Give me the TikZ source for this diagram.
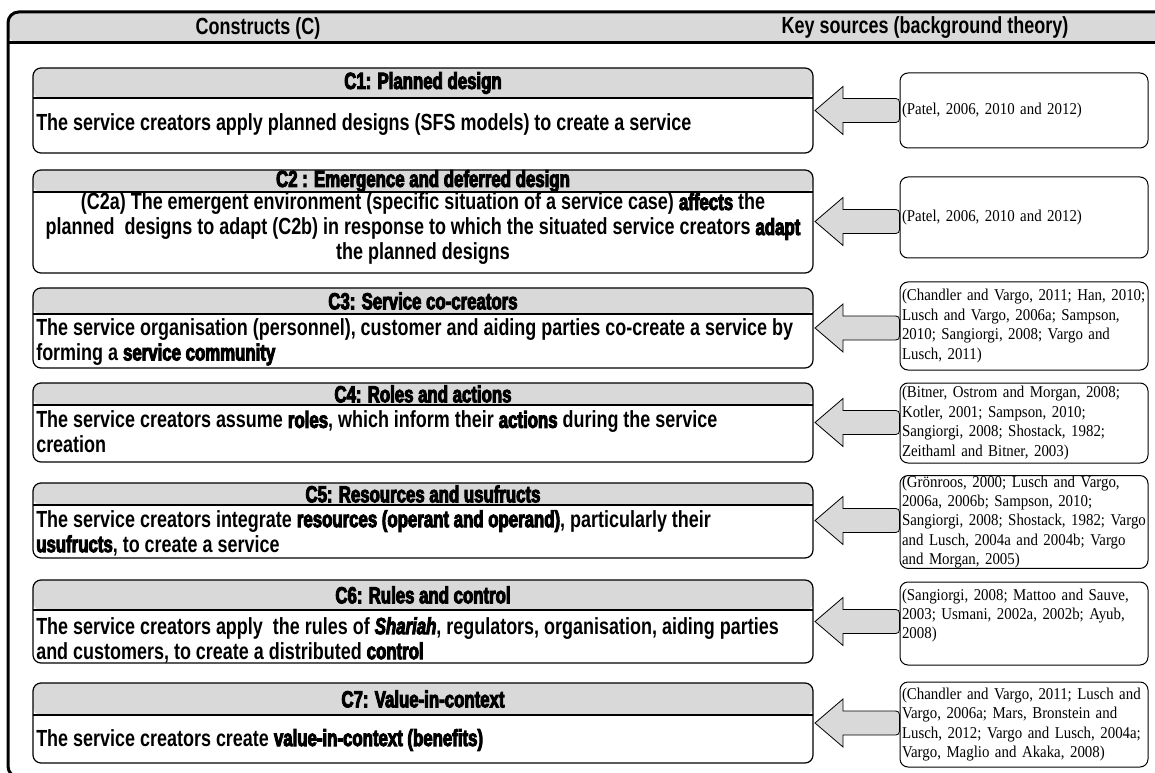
\documentclass[tikz,border=0pt]{standalone}
\usepackage{fontspec}
\setmainfont{Liberation Serif}[FakeStretch=0.9]
\newfontfamily\narrowfont{Liberation Sans}[FakeStretch=0.77]
\newfontfamily\heavyfont{Liberation Sans}[FakeStretch=0.72,BoldFeatures={FakeBold=4},BoldItalicFeatures={FakeBold=4}]
\usetikzlibrary{calc}
\definecolor{hdrgray}{RGB}{217,217,217}
\newcommand\hv[1]{{\heavyfont\bfseries #1}}

\tikzset{
  panel/.style={draw=black, line width=0.9pt, rounded corners=6pt, fill=white,
    inner sep=0pt, outer sep=0pt},
  band/.style={path picture={
      \fill[hdrgray] (path picture bounding box.north west) rectangle
        ($(path picture bounding box.north east)+(0,#1)$);
      \draw[line width=0.9pt] ($(path picture bounding box.north west)+(0,#1)$) --
        ($(path picture bounding box.north east)+(0,#1)$);}},
  outerframe/.style={draw=black, line width=2.25pt, rounded corners=8pt, fill=white,
    inner sep=0pt, outer sep=0pt, path picture={
      \fill[hdrgray] (path picture bounding box.north west) rectangle
        ($(path picture bounding box.north east)+(0,31)$);
      \draw[line width=2.25pt] ($(path picture bounding box.north west)+(0,31)$) --
        ($(path picture bounding box.north east)+(0,31)$);}},
  colhead/.style={font={\narrowfont\bfseries\fontsize{17.5pt}{19pt}\selectfont}, inner sep=0pt},
  title/.style={font={\heavyfont\bfseries\fontsize{17.5pt}{19pt}\selectfont}, inner sep=0pt},
  body/.style={font={\narrowfont\bfseries\fontsize{17.5pt}{18.75pt}\selectfont}, inner sep=0pt, align=left},
  src/.style={draw=black, line width=0.75pt, rounded corners=6pt, fill=white,
    text width=183pt, inner xsep=1.5pt, inner ysep=0pt, align=left,
    font=\fontsize{12.4pt}{14.6pt}\selectfont},
  feeder/.style={draw=black, line width=0.6pt, fill=hdrgray, line join=miter},
}

% construct panel: name, top, bottom, band height, title
\newcommand\construct[5]{%
  \node[panel, band=#4, minimum width=585pt, minimum height={(#3-#2)*0.75pt}]
    (#1) at (423,{(#2+#3)/2}) {};
  \node[title] (#1-title) at (423,{#2+#4/2}) {#5};}

% source panel: name, top, bottom, references
\newcommand\source[4]{%
  \node[src, minimum height={(#3-#2)*0.75pt}] (#1) at (1024,{(#2+#3)/2}) {#4};}

% block arrow from a source panel into a construct panel
\newcommand\feed[2]{%
  \coordinate (tip) at ($(#2.east)+(2,0)$);
  \coordinate (shaftend) at (#1.west |- tip);
  \draw[feeder] (tip) -- ++(28,-24) -- ++(0,12) -- ($(shaftend)+(-8,-12)$)
    .. controls ($(shaftend)+(0,-12)$) .. ($(shaftend)+(0,-4)$) -- ($(shaftend)+(0,4)$)
    .. controls ($(shaftend)+(0,12)$) .. ($(shaftend)+(-8,12)$)
    -- ($(tip)+(28,12)$) -- ++(0,12) -- cycle;}

\begin{document}
\begin{tikzpicture}[x=0.75pt,y=-0.75pt]
\useasboundingbox (0,0) rectangle (1155,773);
\clip (0,0) rectangle (1155,773);
\fill[white] (0,0) rectangle (1155,773);

% outer table with its heading row
\node[outerframe, minimum width=879pt, minimum height=573.75pt] (frame) at (594,394.5) {};
\node[colhead] (headC) at (258,28) {Constructs (C)};
\node[colhead] (headK) at (925,28) {Key sources (background theory)};

% constructs
\construct{c1}{68}{153}{30}{C1: Planned design}
\construct{c2}{170}{273}{22}{C2 : Emergence and deferred design}
\construct{c3}{288}{368}{26}{C3: Service co-creators}
\construct{c4}{383}{462}{22}{C4: Roles and actions}
\construct{c5}{483}{558}{22}{C5: Resources and usufructs}
\construct{c6}{580}{663}{30}{C6: Rules and control}
\construct{c7}{683}{763}{32}{C7: Value-in-context}

\node[body, anchor=west] (c1-body) at (36,125)
  {The service creators apply planned designs (SFS models) to create a service};
\node[body, align=center] (c2-body) at (423,229)
  {(C2a) The emergent environment (specific situation of a service case) \hv{affects} the\\
   planned\ \ designs to adapt (C2b) in response to which the situated service creators \hv{adapt}\\
   the planned designs};
\node[body, anchor=west] (c3-body) at (36,342)
  {The service organisation (personnel), customer and aiding parties co-create a service by\\
   forming a \hv{service community}};
\node[body, anchor=west] (c4-body) at (36,432)
  {The service creators assume \hv{roles}, which inform their \hv{actions} during the service\\
   creation};
\node[body, anchor=west] (c5-body) at (36,533)
  {The service creators integrate \hv{resources (operant and operand)}, particularly their\\
   \hv{usufructs}, to create a service};
\node[body, anchor=west] (c6-body) at (36,640)
  {The service creators apply\ \ the rules of {\heavyfont\bfseries\itshape Shariah}, regulators, organisation, aiding parties\\
   and customers, to create a distributed \hv{control}};
\node[body, anchor=west] (c7-body) at (36,740)
  {The service creators create \hv{value-in-context (benefits)}};

% key sources
\source{s1}{73}{148}{\mbox{(Patel, 2006, 2010 and 2012)}}
\source{s2}{177}{258}{\mbox{(Patel, 2006, 2010 and 2012)}}
\source{s3}{282}{370}{\mbox{(Chandler and Vargo, 2011; Han, 2010;}\\
  \mbox{Lusch and Vargo, 2006a; Sampson,}\\ \mbox{2010; Sangiorgi, 2008; Vargo and}\\ \mbox{Lusch, 2011)}}
\source{s4}{383}{463}{\mbox{(Bitner, Ostrom and Morgan, 2008;}\\
  \mbox{Kotler, 2001; Sampson, 2010;}\\ \mbox{Sangiorgi, 2008; Shostack, 1982;}\\ \mbox{Zeithaml and Bitner, 2003)}}
\source{s5}{479}{565}{\mbox{(Grönroos, 2000; Lusch and Vargo,}\\
  \mbox{2006a, 2006b; Sampson, 2010;}\\ \mbox{Sangiorgi, 2008; Shostack, 1982; Vargo}\\
  \mbox{and Lusch, 2004a and 2004b; Vargo}\\ \mbox{and Morgan, 2005)}}
\source{s6}{582}{665}{\mbox{(Sangiorgi, 2008; Mattoo and Sauve,}\\
  \mbox{2003; Usmani, 2002a, 2002b; Ayub,}\\ \mbox{2008)}\\ \mbox{}}
\source{s7}{682}{767}{\mbox{(Chandler and Vargo, 2011; Lusch and}\\
  \mbox{Vargo, 2006a; Mars, Bronstein and}\\ \mbox{Lusch, 2012; Vargo and Lusch, 2004a;}\\
  \mbox{Vargo, Maglio and Akaka, 2008)}}

% sources feed the constructs
\feed{s1}{c1}
\feed{s2}{c2}
\feed{s3}{c3}
\feed{s4}{c4}
\feed{s5}{c5}
\feed{s6}{c6}
\feed{s7}{c7}
\end{tikzpicture}
\end{document}
